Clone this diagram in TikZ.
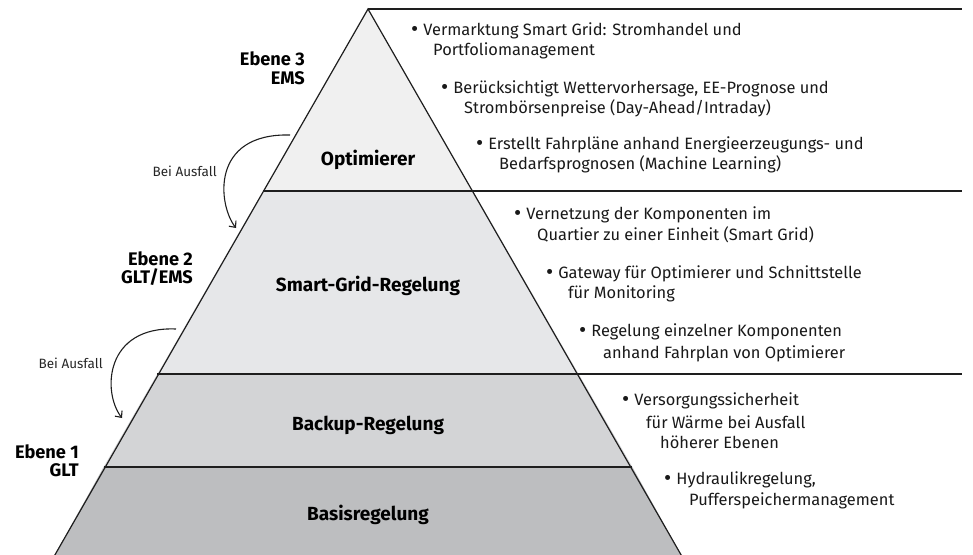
\documentclass[tikz,border=0pt]{standalone}
\usepackage{fontspec}
\usepackage{graphicx}
\setmainfont{Fira Sans}
\usetikzlibrary{arrows.meta}
\definecolor{linec}{HTML}{1E1E1E}
\definecolor{fillA}{HTML}{F0F0F0}
\definecolor{fillB}{HTML}{E6E7E9}
\definecolor{fillC}{HTML}{D3D4D6}
\definecolor{fillD}{HTML}{BDBEC0}
\newcommand{\bul}{\raisebox{-0.12ex}{\scalebox{1.35}{•}}\hspace{5pt}}
\begin{document}
\begin{tikzpicture}[x=1pt,y=-1pt,
  edge/.style={draw=linec, line width=1.2pt},
  layerlbl/.style={anchor=base, inner sep=0pt, font=\bfseries\fontsize{19}{22}\selectfont, text=black},
  ebenelbl/.style={anchor=base east, inner sep=0pt, font=\bfseries\fontsize{18.2}{21}\selectfont, text=black},
  txt/.style={anchor=base west, inner sep=0pt, font=\fontsize{16.4}{20}\selectfont, text=black!90},
  ausfall/.style={anchor=base east, inner sep=0pt, font=\fontsize{13.5}{16}\selectfont, text=black!85},
  fallarrow/.style={draw=linec, line width=1.1pt, -{Straight Barb[length=5pt,width=9pt]}}
]
\useasboundingbox (0,0) rectangle (973,554);
\begin{scope}
\clip (0,0) rectangle (973,554);
% layers
\fill[fillA] (368,9) -- (473.1,191) -- (262.9,191) -- cycle;
\fill[fillB] (262.9,191) -- (473.1,191) -- (578.7,374) -- (157.3,374) -- cycle;
\fill[fillC] (157.3,374) -- (578.7,374) -- (632.4,467) -- (103.6,467) -- cycle;
\fill[fillD] (103.6,467) -- (632.4,467) -- (684,560) -- (52,560) -- cycle;
% outline
\draw[edge] (52,560) -- (368,9) -- (684,560);
\draw[edge] (368,9) -- (962,9);
\draw[edge] (262.9,191) -- (962,191);
\draw[edge] (157.3,374) -- (962,374);
\draw[edge] (103.6,467) -- (632.4,467);
\end{scope}

% layer labels
\node[layerlbl] (opt) at (368,165) {Optimierer};
\node[layerlbl] (sgr) at (368,291) {Smart-Grid-Regelung};
\node[layerlbl] (bur) at (368,430) {Backup-Regelung};
\node[layerlbl] (bas) at (368,520) {Basisregelung};

% level labels
\node[ebenelbl] (e3a) at (305,65) {Ebene 3};
\node[ebenelbl] (e3b) at (305,84) {EMS};
\node[ebenelbl] (e2a) at (193,265) {Ebene 2};
\node[ebenelbl] (e2b) at (193,283) {GLT/EMS};
\node[ebenelbl] (e1a) at (79,458) {Ebene 1};
\node[ebenelbl] (e1b) at (79,476) {GLT};

% fallback arrows
\coordinate (s1) at (290,135);
\coordinate (t1) at (236,228);
\draw[fallarrow] (s1) .. controls (210,133) and (218,205) .. (t1);
\node[ausfall] (a1) at (217,176) {Bei Ausfall};
\coordinate (s2) at (176,329);
\coordinate (t2) at (122,418);
\draw[fallarrow] (s2) .. controls (105,326) and (102,392) .. (t2);
\node[ausfall] (a2) at (103,368) {Bei Ausfall};

% descriptions level 3
\node[txt] (d1a) at (411,35) {\bul Vermarktung Smart Grid: Stromhandel und};
\node[txt] (d1b) at (433,55) {Portfoliomanagement};
\node[txt] (d2a) at (441,93) {\bul Berücksichtigt Wettervorhersage, EE-Prognose und};
\node[txt] (d2b) at (464,113) {Strombörsenpreise (Day-Ahead/Intraday)};
\node[txt] (d3a) at (476,149) {\bul Erstellt Fahrpläne anhand Energieerzeugungs- und};
\node[txt] (d3b) at (499,169) {Bedarfsprognosen (Machine Learning)};
% level 2
\node[txt] (d4a) at (514,219) {\bul Vernetzung der Komponenten im};
\node[txt] (d4b) at (537,240) {Quartier zu einer Einheit (Smart Grid)};
\node[txt] (d5a) at (546,278) {\bul Gateway für Optimierer und Schnittstelle};
\node[txt] (d5b) at (568,298) {für Monitoring};
\node[txt] (d6a) at (579,336) {\bul Regelung einzelner Komponenten};
\node[txt] (d6b) at (603,358) {anhand Fahrplan von Optimierer};
% level 1
\node[txt] (d7a) at (622,405) {\bul Versorgungssicherheit};
\node[txt] (d7b) at (646,428) {für Wärme bei Ausfall};
\node[txt] (d7c) at (660,448) {höherer Ebenen};
\node[txt] (d8a) at (664,484) {\bul Hydraulikregelung,};
\node[txt] (d8b) at (689,505) {Pufferspeichermanagement};
\end{tikzpicture}
\end{document}
